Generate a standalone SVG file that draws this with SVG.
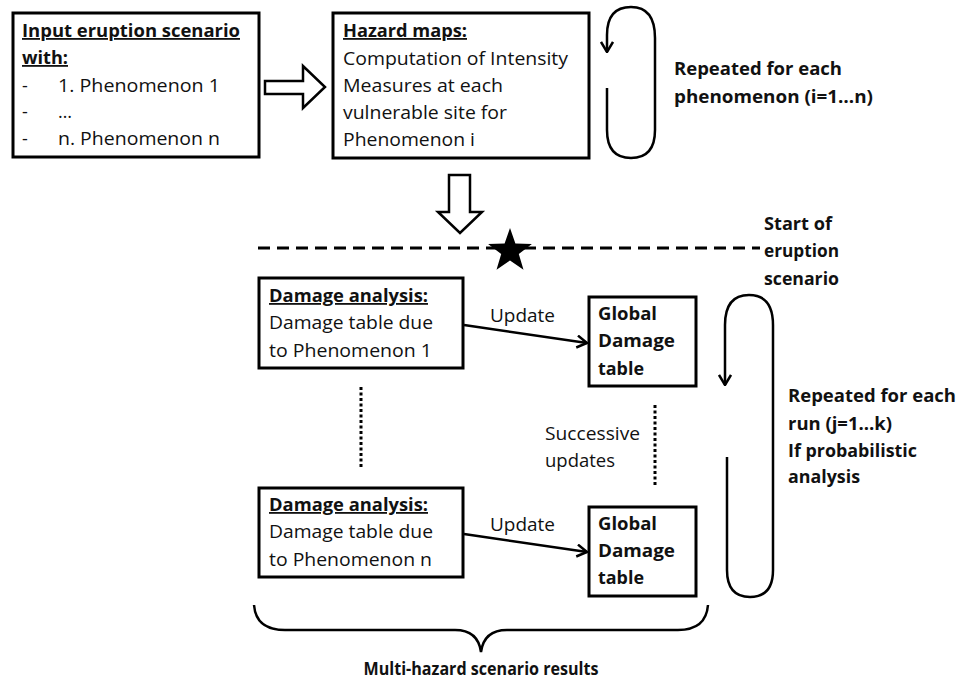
<svg xmlns="http://www.w3.org/2000/svg" width="959" height="679" viewBox="0 0 959 679">
<defs>
<style>
text{font-family:"Open Sans","Liberation Sans",sans-serif;font-size:18px;fill:#111;}
.b{font-weight:bold;}
.u{text-decoration:underline;}
.box{fill:#fff;stroke:#000;stroke-width:3;}
.ln{fill:none;stroke:#000;stroke-width:2.5;}
.hollow{fill:#fff;stroke:#000;stroke-width:2.5;stroke-linejoin:miter;}
</style>
<marker id="ah" viewBox="0 0 12 14" refX="11" refY="7" markerWidth="12" markerHeight="14" markerUnits="userSpaceOnUse" orient="auto">
<path d="M1,1 L11,7 L1,13" fill="none" stroke="#000" stroke-width="2.5"/>
</marker>
</defs>
<rect width="959" height="679" fill="#fff"/>

<g id="input">
<rect class="box" x="13" y="13" width="246" height="144"/>
<text class="b u" x="22" y="37" textLength="218" lengthAdjust="spacingAndGlyphs">Input eruption scenario</text>
<text class="b u" x="22" y="64" textLength="46" lengthAdjust="spacingAndGlyphs">with:</text>
<text x="22" y="92">-</text>
<text x="58" y="92" textLength="162" lengthAdjust="spacingAndGlyphs">1. Phenomenon 1</text>
<text x="22" y="118">-</text>
<text x="58" y="118">…</text>
<text x="22" y="145">-</text>
<text x="58" y="145" textLength="162" lengthAdjust="spacingAndGlyphs">n. Phenomenon n</text>
</g>

<g id="hazard">
<rect class="box" x="333" y="13" width="256" height="145"/>
<text class="b u" x="343" y="37" textLength="124" lengthAdjust="spacingAndGlyphs">Hazard maps:</text>
<text x="343" y="65" textLength="225" lengthAdjust="spacingAndGlyphs">Computation of Intensity</text>
<text x="343" y="92" textLength="160" lengthAdjust="spacingAndGlyphs">Measures at each</text>
<text x="343" y="119" textLength="164" lengthAdjust="spacingAndGlyphs">vulnerable site for</text>
<text x="343" y="146" textLength="132" lengthAdjust="spacingAndGlyphs">Phenomenon i</text>
</g>

<g id="loop1-label">
<text class="b" x="674" y="75" textLength="168" lengthAdjust="spacingAndGlyphs">Repeated for each</text>
<text class="b" x="674" y="103" textLength="199" lengthAdjust="spacingAndGlyphs">phenomenon (i=1…n)</text>
</g>

<g id="start-label">
<text class="b" x="764" y="230" textLength="68" lengthAdjust="spacingAndGlyphs">Start of</text>
<text class="b" x="764" y="257" textLength="75" lengthAdjust="spacingAndGlyphs">eruption</text>
<text class="b" x="764" y="285" textLength="75" lengthAdjust="spacingAndGlyphs">scenario</text>
</g>

<g id="damage1">
<rect class="box" x="259" y="278" width="204" height="90"/>
<text class="b u" x="269" y="302" textLength="159" lengthAdjust="spacingAndGlyphs">Damage analysis:</text>
<text x="269" y="329" textLength="164" lengthAdjust="spacingAndGlyphs">Damage table due</text>
<text x="269" y="357" textLength="163" lengthAdjust="spacingAndGlyphs">to Phenomenon 1</text>
</g>

<g id="damage2">
<rect class="box" x="259" y="488" width="204" height="89"/>
<text class="b u" x="269" y="511" textLength="159" lengthAdjust="spacingAndGlyphs">Damage analysis:</text>
<text x="269" y="538" textLength="164" lengthAdjust="spacingAndGlyphs">Damage table due</text>
<text x="269" y="566" textLength="163" lengthAdjust="spacingAndGlyphs">to Phenomenon n</text>
</g>

<g id="global1">
<rect class="box" x="589" y="297" width="107" height="89"/>
<text class="b" x="598" y="320" textLength="59" lengthAdjust="spacingAndGlyphs">Global</text>
<text class="b" x="598" y="347" textLength="77" lengthAdjust="spacingAndGlyphs">Damage</text>
<text class="b" x="598" y="375" textLength="46" lengthAdjust="spacingAndGlyphs">table</text>
</g>

<g id="global2">
<rect class="box" x="589" y="507" width="107" height="89"/>
<text class="b" x="598" y="530" textLength="59" lengthAdjust="spacingAndGlyphs">Global</text>
<text class="b" x="598" y="557" textLength="77" lengthAdjust="spacingAndGlyphs">Damage</text>
<text class="b" x="598" y="584" textLength="46" lengthAdjust="spacingAndGlyphs">table</text>
</g>

<g id="successive-label">
<text x="545" y="440" textLength="95" lengthAdjust="spacingAndGlyphs">Successive</text>
<text x="545" y="467" textLength="70" lengthAdjust="spacingAndGlyphs">updates</text>
</g>

<g id="loop2-label">
<text class="b" x="788" y="402" textLength="168" lengthAdjust="spacingAndGlyphs">Repeated for each</text>
<text class="b" x="788" y="430" textLength="104" lengthAdjust="spacingAndGlyphs">run (j=1…k)</text>
<text class="b" x="788" y="457" textLength="129" lengthAdjust="spacingAndGlyphs">If probabilistic</text>
<text class="b" x="788" y="483" textLength="72" lengthAdjust="spacingAndGlyphs">analysis</text>
</g>

<g id="results">
<text class="b" x="481" y="675" text-anchor="middle" textLength="235" lengthAdjust="spacingAndGlyphs">Multi-hazard scenario results</text>
</g>

<g id="connectors">
<polygon class="hollow" points="265,81 303,81 303,66 325,87 303,108 303,94 265,94"/>
<polygon class="hollow" points="449,175 470,175 470,212 482,212 460,233 438,212 449,212"/>
<path class="ln" d="M607,88 V130 Q607,158 631,158 Q655,158 655,130 V38 Q655,7 631,7 Q607,7 607,35 V52" marker-end="url(#ah)"/>
<path class="ln" d="M727,457 V570 Q727,597 750,597 Q773,597 773,570 V325 Q773,295 749,295 Q725,295 725,325 V385" marker-end="url(#ah)"/>
<line x1="258" y1="248" x2="760" y2="248" stroke="#000" stroke-width="3" stroke-dasharray="12,7"/>
<polygon fill="#000" points="510,228 515.4,243.6 531.9,244.0 518.8,254.0 523.5,269.7 510,260.4 496.5,269.7 501.2,254.0 488.1,244.0 504.6,243.6"/>
<line class="ln" x1="464" y1="325" x2="587" y2="343" marker-end="url(#ah)"/>
<line class="ln" x1="464" y1="534" x2="587" y2="552" marker-end="url(#ah)"/>
<text x="490" y="322" textLength="65" lengthAdjust="spacingAndGlyphs">Update</text>
<text x="490" y="531" textLength="65" lengthAdjust="spacingAndGlyphs">Update</text>
<line x1="361" y1="387" x2="361" y2="469" stroke="#000" stroke-width="3" stroke-dasharray="3,2.5"/>
<line x1="655" y1="405" x2="655" y2="487" stroke="#000" stroke-width="3" stroke-dasharray="3,2.5"/>
<path class="ln" d="M254,605 Q256,630 285,630 L455,630 Q478,630 481,652 Q484,630 507,630 L678,630 Q706,630 708,605"/>
</g>
</svg>
